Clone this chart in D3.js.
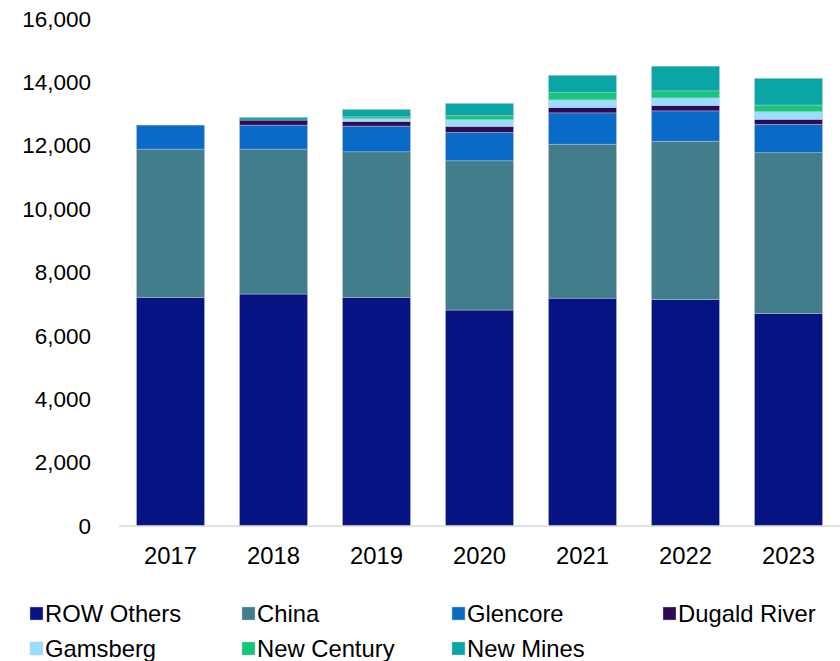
<!DOCTYPE html>
<html>
<head>
<meta charset="utf-8">
<script src="https://cdn.jsdelivr.net/npm/d3@7"></script>
<style>
  html, body { margin: 0; padding: 0; background: #ffffff; }
  svg { display: block; font-family: "Liberation Sans", Arial, sans-serif; }
</style>
</head>
<body>
<svg id="chart" width="840" height="661"></svg>
<script>
const years = ["2017", "2018", "2019", "2020", "2021", "2022", "2023"];
const seriesNames = ["ROW Others", "China", "Glencore", "Dugald River", "Gamsberg", "New Century", "New Mines"];
const seriesColors = ["#061483", "#417D8A", "#0A6AC8", "#2E0A55", "#99DDFF", "#14C77A", "#0AA5A5"];
const rowOthers   = [7215, 7320, 7215, 6815, 7190, 7150, 6700];
const china       = [4679, 4575, 4594, 4710, 4859, 4994, 5080];
const glencore    = [757,  757,  811,  896,  988,  956,  896];
const dugaldRiver = [0,    158,  148,  190,  168,  170,  158];
const gamsberg    = [0,    0,    85,   211,  243,  240,  240];
const newCentury  = [0,    0,    60,   125,  230,  221,  211];
const newMines    = [0,    85,   233,  390,  546,  779,  842];
const yTicks = [0, 2000, 4000, 6000, 8000, 10000, 12000, 14000, 16000];

const seriesValues = [rowOthers, china, glencore, dugaldRiver, gamsberg, newCentury, newMines];
const table = years.map((y, i) => {
  const row = { year: y };
  seriesNames.forEach((s, k) => { row[s] = seriesValues[k][i]; });
  return row;
});

const FS = 22.5;
const FS2 = 23.8;
const svg = d3.select("#chart");
const x = d3.scaleBand().domain(years).range([119, 840]).paddingInner(0.34).paddingOuter(0.17);
const y = d3.scaleLinear().domain([0, 16000]).range([526, 19]);
const color = d3.scaleOrdinal().domain(seriesNames).range(seriesColors);

const stacked = d3.stack().keys(seriesNames)(table);

svg.append("g").selectAll("g").data(stacked).join("g")
  .attr("fill", d => color(d.key))
  .selectAll("rect").data(d => d.filter(p => p[1] - p[0] > 0)).join("rect")
  .attr("x", d => x(d.data.year))
  .attr("width", x.bandwidth())
  .attr("y", d => y(d[1]))
  .attr("height", d => y(d[0]) - y(d[1]))
  .attr("stroke", "rgba(200,200,215,0.7)")
  .attr("stroke-width", 0.6);

// x axis
const xAxis = svg.append("g").attr("transform", "translate(0,526)")
  .call(d3.axisBottom(x).tickSize(0).tickPadding(21));
xAxis.select(".domain").attr("stroke", "#d9d9d9").attr("stroke-width", 1.5)
  .attr("d", "M119,0H840");
xAxis.selectAll("text").attr("font-size", FS2).attr("fill", "#000")
  .attr("font-family", "Liberation Sans, Arial, sans-serif");

// y axis
const yAxis = svg.append("g").attr("transform", "translate(91,0)")
  .call(d3.axisLeft(y).tickValues(yTicks).tickSize(0).tickPadding(0).tickFormat(d3.format(",")));
yAxis.select(".domain").remove();
yAxis.selectAll("text").attr("font-size", FS).attr("fill", "#000")
  .attr("font-family", "Liberation Sans, Arial, sans-serif");

// legend
const legendPos = [[30, 614], [242, 614], [452, 614], [663, 614], [30, 649], [242, 649], [452, 649]];
const lg = svg.append("g").selectAll("g").data(seriesNames).join("g")
  .attr("transform", (d, i) => `translate(${legendPos[i][0]},${legendPos[i][1]})`);
lg.append("rect").attr("x", 0).attr("y", -7).attr("width", 13).attr("height", 13)
  .attr("fill", d => color(d)).attr("stroke", "rgba(200,200,215,0.7)").attr("stroke-width", 0.6);
lg.append("text").attr("x", 15).attr("y", 0).attr("dy", "0.35em")
  .attr("font-size", FS2).attr("fill", "#000").text(d => d);
</script>
</body>
</html>
